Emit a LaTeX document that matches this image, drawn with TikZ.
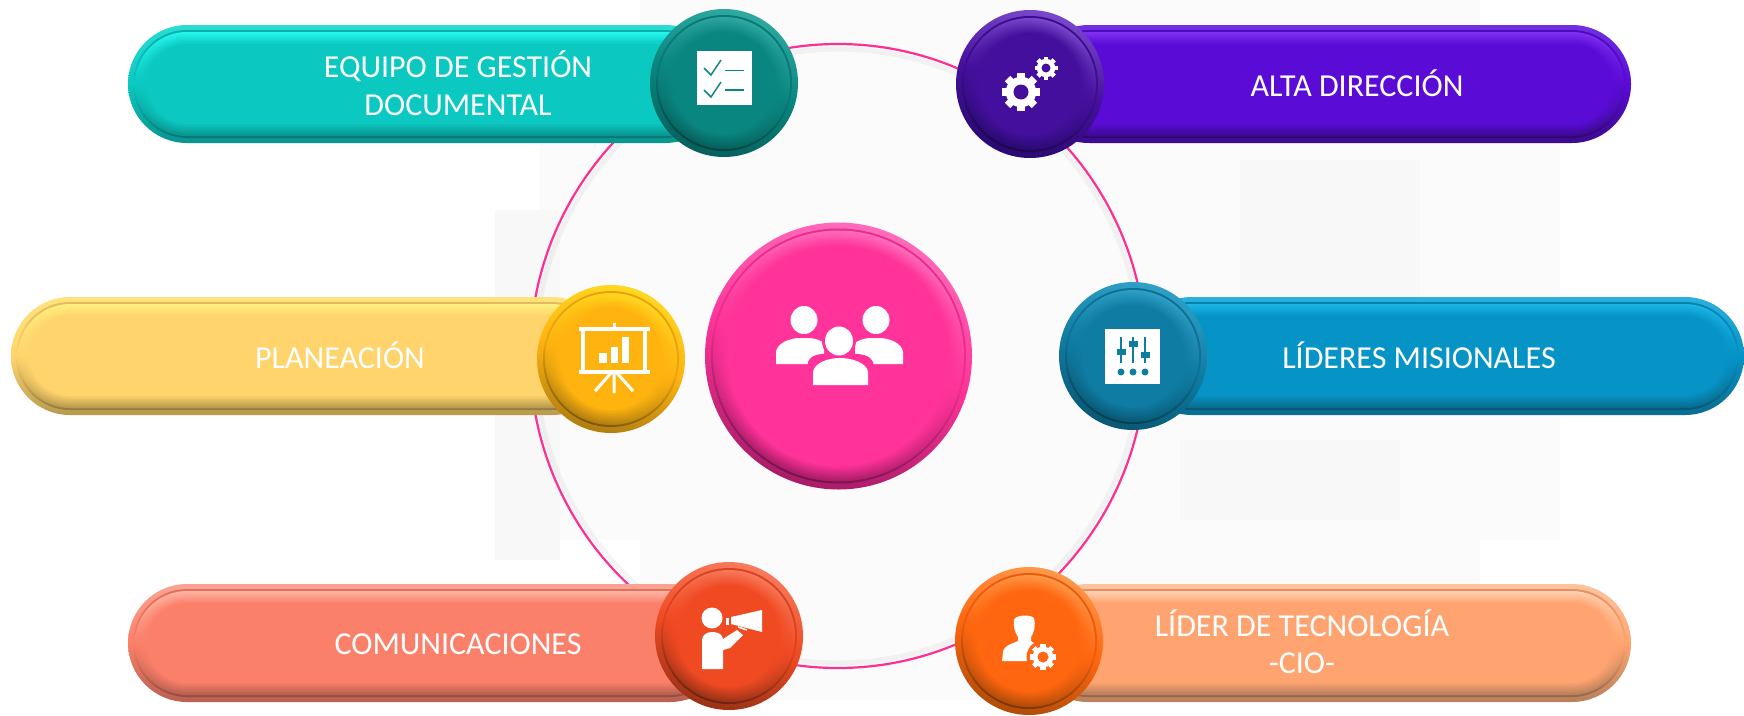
\documentclass[tikz,border=0pt]{standalone}
\usepackage{fontspec}
\setmainfont{Carlito}
\definecolor{ringc}{HTML}{FF2E93}
\definecolor{bgpatch}{HTML}{FBFBFB}
\definecolor{bgpatchb}{HTML}{F8F8F8}
\newcommand{\palette}[8]{% name, pill: light,low,hi,base; disc: light,low,base
  \definecolor{#1PL}{HTML}{#2}\definecolor{#1PD}{HTML}{#3}\definecolor{#1PH}{HTML}{#4}\definecolor{#1PB}{HTML}{#5}%
  \definecolor{#1DL}{HTML}{#6}\definecolor{#1DD}{HTML}{#7}\definecolor{#1DB}{HTML}{#8}%
}
\palette{teal}{2ADCD4}{0A9490}{26F6EE}{0BC8C0}{2FA8A2}{06605C}{0A8680}
\palette{purp}{7030E0}{3D0A90}{7F30F0}{5A0BD6}{7A48CC}{2A0A70}{430F9C}
\palette{yell}{FFE27C}{B89A4E}{FFF07E}{FFD46C}{FFD820}{B07E10}{FFB30F}
\palette{blue}{2CB0DC}{0A6C90}{1CB6E6}{0693C6}{30A0C6}{0A5874}{0F7CA3}
\palette{salm}{FBA493}{B86050}{FFB4A4}{FB8069}{F87A5C}{9A3216}{F04A23}
\palette{peac}{FFC49C}{B8805C}{FFD0B0}{FFA470}{FF9848}{B04C08}{FF660F}
\palette{pink}{FF77BE}{B0206C}{FF66B8}{FF3399}{FF6CBC}{A81C68}{FF3399}
\newcommand{\pillshape}[6]{% name x0 y0 x1 y1 radius
  \shade[top color=#1PL,bottom color=#1PD,middle color=#1PB,rounded corners=#6pt] (#2,#3) rectangle (#4,#5);
  \pgfmathsetmacro{\rg}{#6-5}
  \shade[top color=#1PB!88!black,bottom color=#1PD!80!black,middle color=#1PB,rounded corners=\rg pt] (#2+5,#3+5) rectangle (#4-5,#5-5);
  \foreach \k in {0,...,8}{
    \pgfmathsetmacro{\ins}{7+1.5*\k}
    \pgfmathsetmacro{\rr}{#6-\ins}
    \pgfmathsetmacro{\p}{100-12.5*\k}
    \shade[top color=#1PH!\p!#1PB,bottom color=#1PD!\p!#1PB,middle color=#1PB,rounded corners=\rr pt] (#2+\ins,#3+\ins) rectangle (#4-\ins,#5-\ins);
  }
}
\newcommand{\discshape}[4]{% name cx cy r
  \pgfmathsetmacro{\ra}{#4}\pgfmathsetmacro{\rb}{#4-6}
  \shade[top color=#1DL,bottom color=#1DD,middle color=#1DB,shading angle=-15] (#2,#3) circle[radius=\ra];
  \shade[top color=#1DB!90!black,bottom color=#1DD!70!black,middle color=#1DB!92!black,shading angle=-15] (#2,#3) circle[radius=\rb];
  \foreach \k in {0,...,10}{
    \pgfmathsetmacro{\rc}{#4-8-1.5*\k}
    \pgfmathsetmacro{\p}{100-10*\k}
    \shade[top color=#1DL!\p!#1DB,bottom color=#1DD!\p!#1DB,middle color=#1DB,shading angle=-15] (#2,#3) circle[radius=\rc];
  }
}
\newcommand{\gearicon}[5]{% cx cy r hole holecolour
  \fill[white] (#1,#2) circle[radius=#3*.8];
  \foreach \a in {0,45,...,315}{
    \fill[white,rotate around={\a:(#1,#2)}] (#1-#3*.2,#2-#3) rectangle (#1+#3*.2,#2-#3*.6);
  }
  \fill[#5] (#1,#2) circle[radius=#4];
}
\tikzset{
  lab/.style={text=white,font=\fontsize{32}{34}\selectfont,inner sep=0pt,anchor=center},
  ringline/.style={draw=ringc,line width=2.2pt},
  ringshadow/.style={draw=black!55,opacity=.07,line width=5pt},
}
\begin{document}
\begin{tikzpicture}[x=1pt,y=-1pt]
\useasboundingbox (0,0) rectangle (1744,715);
\fill[white] (0,0) rectangle (1744,715);
% faint blocky background
\fill[bgpatch] (640,0) rectangle (1480,700);
\fill[bgpatch] (540,130) rectangle (1560,540);
\fill[bgpatchb] (560,60) rectangle (640,130);
\fill[bgpatchb] (495,210) rectangle (560,560);
\fill[bgpatchb] (1240,160) rectangle (1420,300);
\fill[bgpatchb] (1180,440) rectangle (1400,520);
% ring
\draw[ringshadow] (838,356) ellipse[x radius=303,y radius=307];
\draw[ringline] (838,356) ellipse[x radius=308,y radius=312];
% pills
\pillshape{teal}{128}{25}{724}{143}{59}
\pillshape{purp}{1030}{25}{1631}{143}{59}
\pillshape{yell}{11}{297}{611}{415}{59}
\pillshape{blue}{1133}{297}{1744}{415}{59}
\pillshape{salm}{128}{584}{729}{702}{59}
\pillshape{peac}{1029}{584}{1631}{702}{59}
% discs
\discshape{teal}{724}{83}{74}
\discshape{purp}{1030}{84}{74}
\discshape{yell}{611}{359}{74}
\discshape{blue}{1133}{356}{74}
\discshape{salm}{729}{636}{74}
\discshape{peac}{1029}{641}{74}
\discshape{pink}{838.5}{356}{133.5}
% centre people icon
\fill[white] (804,320) ellipse[x radius=13.5,y radius=14];
\fill[white] (876,320) ellipse[x radius=13.5,y radius=14];
\fill[white] (776,364) -- (776,352) .. controls (777,343) and (790,338) .. (800,338) -- (808,338) .. controls (814,338) and (820,340) .. (824,343) -- (824,364) -- cycle;
\fill[white] (903,364) -- (903,352) .. controls (902,343) and (889,338) .. (879,338) -- (871,338) .. controls (865,338) and (859,340) .. (855,343) -- (855,364) -- cycle;
\fill[pinkDB] (839,341) ellipse[x radius=17,y radius=17.5];
\fill[pinkDB] (808,385) -- (808,362) .. controls (812,352) and (825,354) .. (840,354) .. controls (855,354) and (868,352) .. (873,362) -- (873,385) -- cycle;
\fill[white] (839,341) ellipse[x radius=14,y radius=14.5];
\fill[white] (813,385) -- (813,372) .. controls (814,363) and (828,358) .. (840,358) .. controls (852,358) and (867,363) .. (868,372) -- (868,385) -- cycle;
% checklist icon
\fill[white] (697,51) rectangle (752,105);
\draw[tealDB,line width=1.5pt] (704,68) -- (711,75) -- (721,60);
\draw[tealDB,line width=1.5pt] (704,90) -- (711,97)  -- (721,82);
\draw[tealDB,line width=1.5pt] (725,70.5) -- (744,70.5);
\draw[tealDB,line width=1.5pt] (725,90) -- (744,90);
% gears icon
\gearicon{1021}{92}{19}{7.5}{purpDB}
\gearicon{1046}{68}{11.5}{4.5}{purpDB}
% presentation icon
\draw[white,line width=4pt] (583,329) rectangle (645,372);
\draw[white,line width=4pt] (579,329) -- (650,329) (579,372) -- (650,372);
\draw[white,line width=3pt] (614,323) -- (614,329);
\draw[white,line width=3pt] (614,372) -- (614,393) (612,372) -- (595,391) (616,372) -- (633,391);
\fill[white] (599,353) rectangle (607,363);
\fill[white] (611,347) rectangle (618,363);
\fill[white] (622,337) rectangle (629,363);
% sliders icon
\fill[white] (1105,329) rectangle (1160,384);
\foreach \sx/\sy in {1121/352,1133/344,1145/355}{
  \draw[blueDB,line width=1.6pt] (\sx,337) -- (\sx,363);
  \fill[blueDB] (\sx-4.5,\sy-2.7) rectangle (\sx+4.5,\sy+2.7);
  \fill[blueDB] (\sx,372) circle[radius=3.5];
}
% megaphone icon
\fill[white] (712,618) circle[radius=10.5];
\fill[white] (702,669) -- (702,640) .. controls (702,635) and (707,632) .. (712,632) .. controls (718,632) and (722,634) .. (723,639) -- (737,630) -- (743,635) -- (730,648) -- (723,650) -- (723,669) -- cycle;
\fill[white] (731,617) -- (762,610) -- (762,632) -- (731,624) -- cycle;
\fill[white] (726,617.5) rectangle (729,625);
\draw[white,line width=1.5pt] (738,627) -- (747,630);
% person with gear icon
\fill[white] (1014,620) .. controls (1015,615) and (1030,614) .. (1034,618) .. controls (1036,625) and (1034,633) .. (1031,637) -- (1031,641) .. controls (1036,643) and (1034,646) .. (1036,661) -- (1002,661) -- (1003,652) .. controls (1004,645) and (1012,644) .. (1018,641) -- (1018,637) .. controls (1015,633) and (1013,626) .. (1014,620) -- cycle;
\fill[peacDB] (1043,657) circle[radius=16.5];
\gearicon{1043}{657}{13}{5.5}{peacDB}
% labels
\node[lab] (equipo1) at (458,66) {EQUIPO DE GESTIÓN};
\node[lab] (equipo2) at (458,105) {DOCUMENTAL};
\node[lab] (alta) at (1357,83) {ALTA DIRECCIÓN};
\node[lab] (plan) at (340,355) {PLANEACIÓN};
\node[lab] (lideres) at (1419,355) {LÍDERES MISIONALES};
\node[lab] (comun) at (458,644) {COMUNICACIONES};
\node[lab] (cio1) at (1302,623) {LÍDER DE TECNOLOGÍA};
\node[lab] (cio2) at (1302,663) {-CIO-};
\end{tikzpicture}
\end{document}
